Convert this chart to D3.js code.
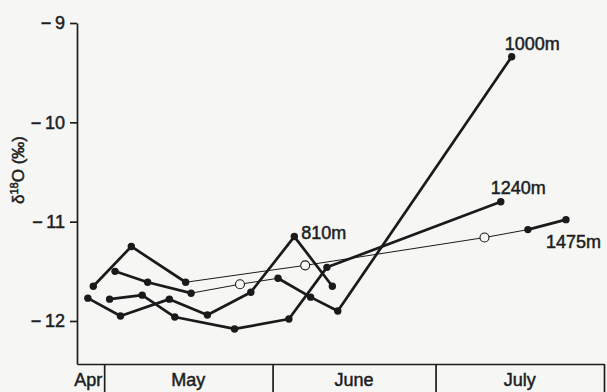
<!DOCTYPE html>
<html>
<head>
<meta charset="utf-8">
<script src="https://cdn.jsdelivr.net/npm/d3@7"></script>
<style>
  body { margin: 0; background: #f6f7f5; }
  svg { display: block; }
  text { font-family: "Liberation Sans", Arial, sans-serif; fill: #1e1e1e; stroke: #1e1e1e; stroke-width: 0.5px; }
</style>
</head>
<body>
<div id="chart"></div>
<script>
// isotope ratio by sampling date, one list per elevation
var seriesNames = ["810m", "1000m", "1240m", "1475m"];

var dates810  = ["1982-04-28", "1982-05-04", "1982-05-13", "1982-05-20", "1982-05-28", "1982-06-05", "1982-06-12"];
var values810 = [-11.77, -11.95, -11.78, -11.94, -11.71, -11.15, -11.65];

var dates1000  = ["1982-05-03", "1982-05-09", "1982-05-17", "1982-05-26", "1982-06-02", "1982-06-08", "1982-06-13", "1982-07-15"];
var values1000 = [-11.50, -11.61, -11.72, -11.63, -11.57, -11.76, -11.90, -9.34];

var dates1240  = ["1982-05-02", "1982-05-08", "1982-05-14", "1982-05-25", "1982-06-04", "1982-06-11", "1982-07-13"];
var values1240 = [-11.78, -11.74, -11.96, -12.08, -11.98, -11.46, -10.80];

var dates1475  = ["1982-04-29", "1982-05-06", "1982-05-16", "1982-06-07", "1982-07-10", "1982-07-18", "1982-07-25"];
var values1475 = [-11.65, -11.25, -11.61, -11.44, -11.16, -11.08, -10.98];

// open circles (joined by thin lines)
var openPoints = [["1000m", "1982-05-26"], ["1475m", "1982-06-07"], ["1475m", "1982-07-10"]];

var yTicks = [-9, -10, -11, -12];
var monthNames = ["Apr", "May", "June", "July"];
var monthStarts = ["1982-04-26", "1982-05-01", "1982-06-01", "1982-07-01", "1982-08-01"];

var parseDate = d3.timeParse("%Y-%m-%d");

var seriesDates = [dates810, dates1000, dates1240, dates1475];
var seriesValues = [values810, values1000, values1240, values1475];

var series = seriesNames.map(function(name, i) {
    return {
        name: name,
        points: seriesDates[i].map(function(d, j) {
            var isOpen = openPoints.some(function(p) { return p[0] === name && p[1] === d; });
            return { date: parseDate(d), value: seriesValues[i][j], open: isOpen };
        })
    };
});

var margin = {top: 23, right: 3, bottom: 28, left: 77};
var width = 607 - margin.left - margin.right;
var height = 392 - margin.top - margin.bottom;

var svg = d3.select("#chart").append("svg")
    .attr("width", 607)
    .attr("height", 392)
    .append("g")
    .attr("transform", "translate(" + margin.left + "," + margin.top + ")");

var x = d3.scaleTime()
    .domain([parseDate(monthStarts[0]), parseDate(monthStarts[monthStarts.length - 1])])
    .range([0, width]);

var y = d3.scaleLinear()
    .domain([-9 - height / 99.33, -9])
    .range([height, 0]);

// y axis
var yAxis = d3.axisLeft(y)
    .tickValues(yTicks)
    .tickSize(7)
    .tickSizeOuter(0)
    .tickPadding(5)
    .tickFormat(function(d) { return "\u2212\u2009" + Math.abs(d); });

var gy = svg.append("g").attr("class", "y-axis").call(yAxis);
gy.selectAll("path, line").attr("stroke", "#1e1e1e").attr("stroke-width", 1.7);
gy.selectAll("text").style("font-size", "18px").attr("fill", "#1e1e1e");

// month strip under the plot
var xAxis = d3.axisBottom(x)
    .tickValues(monthStarts.slice(1).map(parseDate))
    .tickSize(margin.bottom + 2)
    .tickSizeOuter(0)
    .tickFormat("");

var gx = svg.append("g").attr("class", "x-axis")
    .attr("transform", "translate(0," + height + ")")
    .call(xAxis);
gx.selectAll("path, line").attr("stroke", "#1e1e1e").attr("stroke-width", 1.7);

svg.selectAll(".month-label")
    .data(monthNames)
    .enter()
    .append("text")
    .attr("class", "month-label")
    .attr("x", function(d, i) {
        var a = x(parseDate(monthStarts[i])), b = x(parseDate(monthStarts[i + 1]));
        return i === 0 ? b - 2 : (a + b) / 2;
    })
    .attr("y", height + 22)
    .attr("text-anchor", function(d, i) { return i === 0 ? "end" : "middle"; })
    .style("font-size", "18px")
    .text(function(d) { return d; });

// y label
var ylab = svg.append("text")
    .attr("transform", "translate(" + (24 - margin.left) + "," + (170 - margin.top) + ") rotate(-90)")
    .attr("text-anchor", "middle")
    .style("font-size", "17px");
ylab.append("tspan").text("\u03b4");
ylab.append("tspan").attr("dy", -6).style("font-size", "11px").text("18");
ylab.append("tspan").attr("dy", 6).text("O (\u2030)");

// segments: thin where an open point is involved
var segments = [];
series.forEach(function(s) {
    for (var k = 1; k < s.points.length; k++) {
        segments.push({a: s.points[k - 1], b: s.points[k], thin: s.points[k - 1].open || s.points[k].open});
    }
});

svg.selectAll(".seg")
    .data(segments)
    .enter()
    .append("line")
    .attr("class", "seg")
    .attr("x1", function(d) { return x(d.a.date); })
    .attr("y1", function(d) { return y(d.a.value); })
    .attr("x2", function(d) { return x(d.b.date); })
    .attr("y2", function(d) { return y(d.b.value); })
    .attr("stroke", "#1a1a1a")
    .attr("stroke-width", function(d) { return d.thin ? 1 : 2.7; });

var allPoints = [];
series.forEach(function(s) { allPoints = allPoints.concat(s.points); });

svg.selectAll(".pt")
    .data(allPoints)
    .enter()
    .append("circle")
    .attr("class", "pt")
    .attr("cx", function(d) { return x(d.date); })
    .attr("cy", function(d) { return y(d.value); })
    .attr("r", function(d) { return d.open ? 4.5 : 3.7; })
    .attr("fill", function(d) { return d.open ? "#f6f7f5" : "#1a1a1a"; })
    .attr("stroke", "#1a1a1a")
    .attr("stroke-width", function(d) { return d.open ? 1.1 : 0; });

// elevation labels
var labelPos = {
    "810m":  {idx: 5, dx: 7, dy: 2},
    "1000m": {idx: 7, dx: -7, dy: -7},
    "1240m": {idx: 6, dx: -10, dy: -8},
    "1475m": {idx: 6, dx: -20, dy: 28}
};

svg.selectAll(".elev")
    .data(series)
    .enter()
    .append("text")
    .attr("class", "elev")
    .attr("x", function(d) { return x(d.points[labelPos[d.name].idx].date) + labelPos[d.name].dx; })
    .attr("y", function(d) { return y(d.points[labelPos[d.name].idx].value) + labelPos[d.name].dy; })
    .style("font-size", "18px")
    .text(function(d) { return d.name; });
</script>
</body>
</html>
